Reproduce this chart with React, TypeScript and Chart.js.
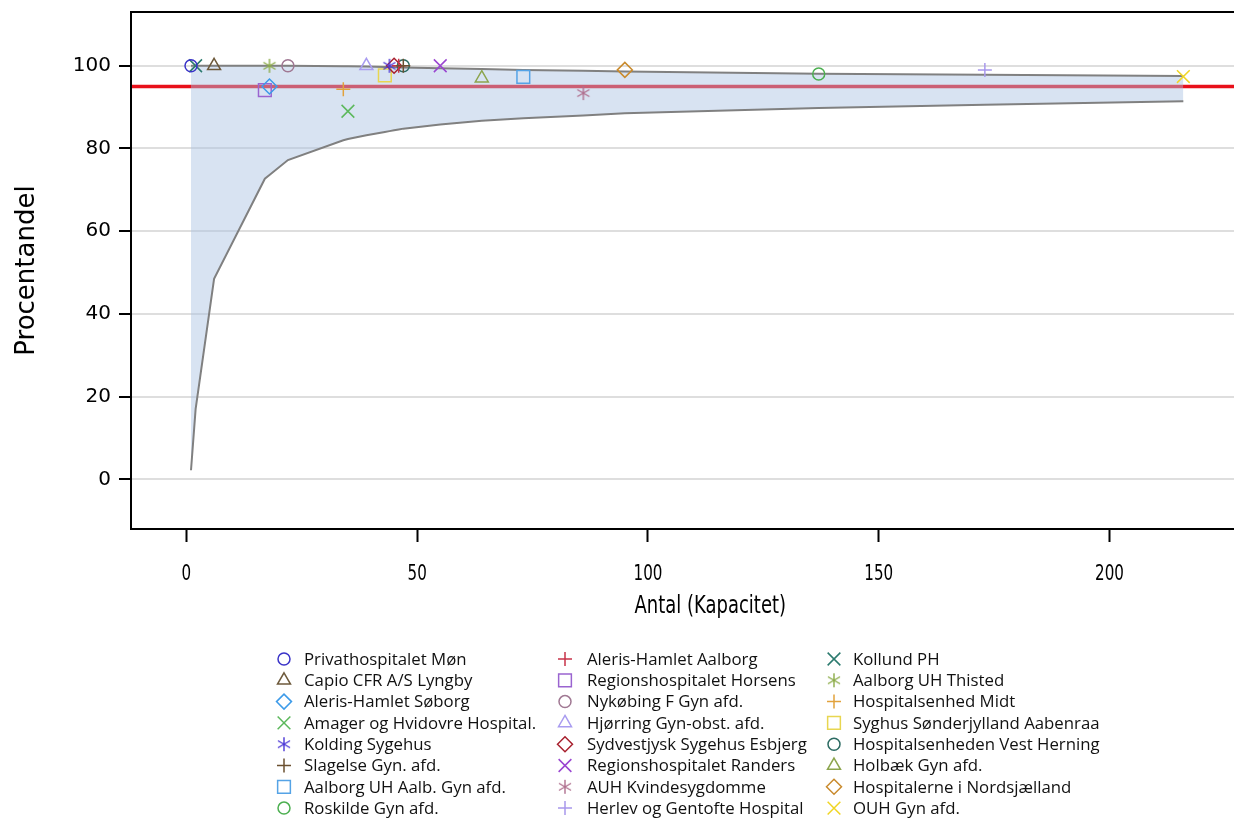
import React, { useEffect, useRef } from 'react';
import { Chart, registerables } from 'chart.js';
import { drawPoint } from 'chart.js/helpers';

Chart.register(...registerables);

// ---------- data ----------
const hospitals = [
  'Privathospitalet Møn',
  'Capio CFR A/S Lyngby',
  'Aleris-Hamlet Søborg',
  'Amager og Hvidovre Hospital.',
  'Kolding Sygehus',
  'Slagelse Gyn. afd.',
  'Aalborg UH Aalb. Gyn afd.',
  'Roskilde Gyn afd.',
  'Aleris-Hamlet Aalborg',
  'Regionshospitalet Horsens',
  'Nykøbing F Gyn afd.',
  'Hjørring Gyn-obst. afd.',
  'Sydvestjysk Sygehus Esbjerg',
  'Regionshospitalet Randers',
  'AUH Kvindesygdomme',
  'Herlev og Gentofte Hospital',
  'Kollund PH',
  'Aalborg UH Thisted',
  'Hospitalsenhed Midt',
  'Syghus Sønderjylland Aabenraa',
  'Hospitalsenheden Vest Herning',
  'Holbæk Gyn afd.',
  'Hospitalerne i Nordsjælland',
  'OUH Gyn afd.',
];
const counts = [1, 6, 18, 35, 44, 47, 73, 137, 46, 17, 22, 39, 45, 55, 86, 173, 2, 18, 34, 43, 47, 64, 95, 216];
const percents = [100, 100, 95, 89, 100, 100, 97.3, 98, 100, 94.1, 100, 100, 100, 100, 93.4, 99, 100, 100, 94.3, 97.7, 100, 97, 99, 97.4];
const markerShapes = [
  'circle', 'triangle', 'rectRot', 'crossRot', 'asterisk', 'cross', 'rect', 'circle',
  'cross', 'rect', 'circle', 'triangle', 'rectRot', 'crossRot', 'asterisk', 'cross',
  'crossRot', 'asterisk', 'cross', 'rect', 'circle', 'triangle', 'rectRot', 'crossRot',
];
const markerColors = [
  '#3a33c8', '#6e5a3c', '#3d9be9', '#5cb85c', '#4b37d6', '#6b5030', '#55a3e6', '#4caf50',
  '#c8334a', '#9a64d0', '#a07893', '#a99cf0', '#a8202e', '#9a45d1', '#b0708f', '#a898ec',
  '#2b7a6e', '#8bab47', '#e2a23c', '#e8d650', '#2c6b62', '#8ca54e', '#c98a2c', '#f0d524',
];

const limitCounts = [1, 2, 6, 17, 18, 22, 34, 35, 39, 43, 44, 45, 46, 47, 55, 64, 73, 86, 95, 137, 173, 216];
const lowerLimit = [2.2, 17, 48.5, 72.7, 73.6, 77.2, 82, 82.3, 83.2, 84, 84.2, 84.4, 84.6, 84.8, 85.8, 86.7, 87.3, 88, 88.5, 89.8, 90.6, 91.4];
const upperLimit = [100, 100, 100, 100, 100, 100, 99.9, 99.9, 99.8, 99.7, 99.7, 99.7, 99.6, 99.6, 99.4, 99.2, 99.0, 98.8, 98.6, 98.1, 97.8, 97.5];
const targetPercent = 95;

const xTicks = [0, 50, 100, 150, 200];
const yTicks = [0, 20, 40, 60, 80, 100];
const xTitle = 'Antal (Kapacitet)';
const yTitle = 'Procentandel';

// ---------- layout ----------
const W = 1234;
const H = 835;
const CANVAS_W = 1300; // plot continues past the right edge of the picture
const FRAME = { left: 131, top: 12, right: 1299, bottom: 529 };
const X_RANGE = { min: -12, max: 239 };
const Y_RANGE = { min: -12, max: 113 };
const LEGEND = {
  iconX: [284, 565, 834],
  textX: [304, 587, 853],
  y0: 659,
  dy: 21.3,
  rows: 8,
};
const H_SQUEEZE = 0.72;

const shapeRadius: Record<string, number> = {
  circle: 6, triangle: 7.5, rectRot: 7.5, crossRot: 9, cross: 7, rect: 9, asterisk: 7,
};

function makeAsterisk(color: string): HTMLCanvasElement {
  const size = 16;
  const c = document.createElement('canvas');
  c.width = size;
  c.height = size;
  const g = c.getContext('2d')!;
  g.strokeStyle = color;
  g.lineWidth = 1.4;
  const r = 7;
  const cx = size / 2;
  g.beginPath();
  for (const a of [90, 30, 150]) {
    const rad = (a * Math.PI) / 180;
    g.moveTo(cx - r * Math.cos(rad), cx - r * Math.sin(rad));
    g.lineTo(cx + r * Math.cos(rad), cx + r * Math.sin(rad));
  }
  g.stroke();
  return c;
}

export default function App() {
  const ref = useRef<HTMLCanvasElement | null>(null);

  useEffect(() => {
    if (!ref.current) return;
    const styles = markerShapes.map((s, i) => (s === 'asterisk' ? makeAsterisk(markerColors[i]) : s));

    const frameAndLegend = {
      id: 'frameAndLegend',
      afterDraw(chart: any) {
        const { ctx, chartArea } = chart;
        ctx.save();
        ctx.strokeStyle = '#000';
        ctx.lineWidth = 2;
        ctx.strokeRect(chartArea.left, chartArea.top, chartArea.right - chartArea.left, chartArea.bottom - chartArea.top);

        // x-axis tick labels and title (condensed text)
        const xs = chart.scales.x;
        ctx.fillStyle = '#000';
        ctx.textAlign = 'center';
        ctx.textBaseline = 'middle';
        ctx.font = '21px "DejaVu Sans", sans-serif';
        xTicks.forEach((v) => {
          ctx.save();
          ctx.translate(xs.getPixelForValue(v), chartArea.bottom + 46);
          ctx.scale(H_SQUEEZE, 1);
          ctx.fillText(String(v), 0, 0);
          ctx.restore();
        });
        ctx.font = '25px "DejaVu Sans", sans-serif';
        ctx.save();
        ctx.translate((chartArea.left + chartArea.right) / 2, chartArea.bottom + 77);
        ctx.scale(H_SQUEEZE, 1);
        ctx.fillText(xTitle, 0, 0);
        ctx.restore();

        // legend
        ctx.font = '16.8px "Open Sans", "Noto Sans", sans-serif';
        ctx.textBaseline = 'middle';
        ctx.textAlign = 'left';
        hospitals.forEach((name, i) => {
          const col = Math.floor(i / LEGEND.rows);
          const row = i % LEGEND.rows;
          const y = LEGEND.y0 + row * LEGEND.dy;
          ctx.save();
          ctx.strokeStyle = markerColors[i];
          ctx.fillStyle = 'rgba(0,0,0,0)';
          ctx.lineWidth = 1.5;
          drawPoint(ctx, {
            pointStyle: styles[i] as any,
            radius: shapeRadius[markerShapes[i]],
            rotation: 0,
            borderWidth: 1.5,
          } as any, LEGEND.iconX[col], y);
          ctx.restore();
          ctx.fillStyle = '#111';
          ctx.fillText(name, LEGEND.textX[col], y + 1);
        });
        ctx.restore();
      },
    };

    const pointDatasets = hospitals.map((name, i) => ({
      type: 'scatter' as const,
      label: name,
      data: [{ x: counts[i], y: percents[i] }],
      pointStyle: styles[i],
      pointRadius: shapeRadius[markerShapes[i]],
      pointBorderColor: markerColors[i],
      pointBackgroundColor: 'rgba(0,0,0,0)',
      pointBorderWidth: 1.5,
      order: 0,
    }));

    const chart = new Chart(ref.current, {
      type: 'scatter',
      data: {
        datasets: [
          {
            type: 'line',
            label: 'target',
            data: [{ x: -50, y: targetPercent }, { x: 300, y: targetPercent }],
            borderColor: '#e8101a',
            borderWidth: 3.5,
            pointRadius: 0,
            fill: false,
            order: 30,
          } as any,
          {
            type: 'line',
            label: 'lower',
            data: limitCounts.map((x, i) => ({ x, y: lowerLimit[i] })),
            borderColor: '#808080',
            borderWidth: 2,
            pointRadius: 0,
            fill: false,
            order: 20,
          } as any,
          {
            type: 'line',
            label: 'upper',
            data: limitCounts.map((x, i) => ({ x, y: upperLimit[i] })),
            borderColor: '#808080',
            borderWidth: 2,
            pointRadius: 0,
            fill: '-1',
            backgroundColor: 'rgba(168,194,226,0.45)',
            order: 20,
          } as any,
          ...pointDatasets,
        ],
      },
      options: {
        responsive: false,
        maintainAspectRatio: false,
        devicePixelRatio: 1,
        animation: false,
        layout: { padding: { left: 0, top: FRAME.top, right: CANVAS_W - FRAME.right, bottom: H - FRAME.bottom - 91 } },
        plugins: {
          legend: { display: false },
          tooltip: { enabled: false },
        },
        scales: {
          x: {
            type: 'linear',
            min: X_RANGE.min,
            max: X_RANGE.max,
            afterBuildTicks: (scale: any) => {
              scale.ticks = xTicks.map((v) => ({ value: v }));
            },
            afterFit: (scale: any) => {
              scale.height = 91;
              scale.paddingLeft = 0;
              scale.paddingRight = 0;
            },
            grid: {
              drawOnChartArea: false,
              drawTicks: true,
              tickLength: 13,
              tickColor: '#000',
              tickWidth: 2,
            },
            border: { display: false },
            ticks: { display: false },
            title: { display: false },
          },
          y: {
            type: 'linear',
            min: Y_RANGE.min,
            max: Y_RANGE.max,
            afterBuildTicks: (scale: any) => {
              scale.ticks = yTicks.map((v) => ({ value: v }));
            },
            afterFit: (scale: any) => {
              scale.width = FRAME.left;
              scale.paddingTop = 0;
              scale.paddingBottom = 0;
            },
            grid: {
              color: '#dedede',
              lineWidth: 2,
              drawTicks: true,
              tickLength: 12,
              tickColor: '#000',
              tickWidth: 2,
            },
            border: { display: false },
            ticks: {
              color: '#000',
              padding: 8,
              font: { family: '"DejaVu Sans", sans-serif', size: 20 },
            },
            title: {
              display: true,
              text: yTitle,
              color: '#000',
              padding: { top: 12, bottom: 0 },
              font: { family: '"DejaVu Sans", sans-serif', size: 26 },
            },
          },
        },
      },
      plugins: [frameAndLegend],
    } as any);

    return () => chart.destroy();
  }, []);

  return (
    <div style={{ position: 'absolute', left: 0, top: 0, width: W, height: H, overflow: 'hidden', background: '#fff' }}>
      <canvas ref={ref} width={CANVAS_W} height={H} style={{ display: 'block', width: CANVAS_W, height: H }} />
    </div>
  );
}
